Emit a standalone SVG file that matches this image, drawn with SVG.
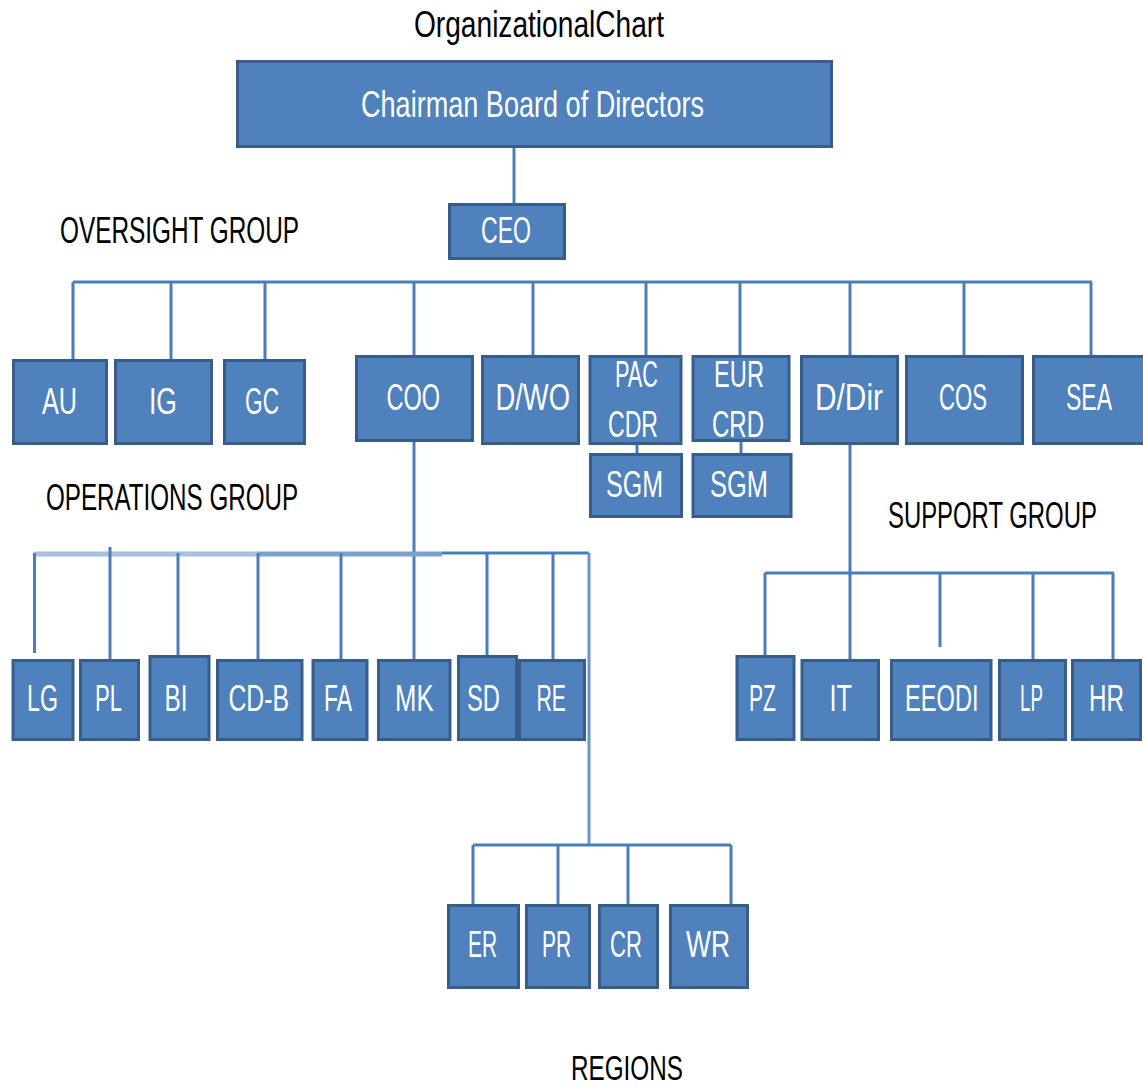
<svg xmlns="http://www.w3.org/2000/svg" width="1143" height="1087" viewBox="0 0 1143 1087">
<style>
.b{fill:#4f81bd;stroke:#385d8a;stroke-width:3}
.t{font-family:"Liberation Sans",Arial,sans-serif;font-size:37px;fill:#ffffff}
.k{font-family:"Liberation Sans",Arial,sans-serif;font-size:37px;fill:#000000}
.c{stroke:#4a7ebb;stroke-width:3;fill:none}
</style>
<rect width="1143" height="1087" fill="#ffffff"/>
<g id="labels">
<text class="k" x="414" y="37" textLength="250" lengthAdjust="spacingAndGlyphs">OrganizationalChart</text>
<text class="k" x="60" y="243" textLength="239" lengthAdjust="spacingAndGlyphs">OVERSIGHT GROUP</text>
<text class="k" x="46" y="510" textLength="252" lengthAdjust="spacingAndGlyphs">OPERATIONS GROUP</text>
<text class="k" transform="translate(888 528) scale(0.646 1)" x="0" y="0">SUPPORT GROUP</text>
<text class="k" x="571" y="1080" style="font-size:35px" textLength="112" lengthAdjust="spacingAndGlyphs">REGIONS</text>
</g>
<g id="connectors">
<path class="c" stroke-width="2" d="M514 148V203"/>
<path class="c" d="M73 282H1092M73 282V359M171 282V359M265 282V359M414 282V355M533 282V355M646 282V355M740 282V355M850 282V355M964 282V355M1091 282V355"/>
<path class="c" stroke-width="2" d="M637 445V453M741 442V453"/>
<path class="c" d="M414 442V659M850 445V659"/>
<path d="M34 554H258" stroke="#a7c0de" stroke-width="5"/>
<path d="M258 554H442" stroke="#7aa1cd" stroke-width="5"/>
<path class="c" d="M442 553H589"/>
<path class="c" d="M34.5 553V653M110 547V659M178 553V655M258 553V659M341 553V659M487 553V655M553 553V659"/>
<path d="M589 553V845" stroke="#6b95c8" stroke-width="3"/>
<path class="c" d="M765 573H1114M765 573V655M940 573V647M1033 573V659M1113 573V659"/>
<path class="c" d="M473 845H731M473 845V904M558 845V904M628 845V904M731 845V904"/>
</g>
<g id="n-chairman"><rect class="b" x="237.5" y="61.5" width="594" height="85"/><text class="t" x="361" y="117" textLength="343" lengthAdjust="spacingAndGlyphs">Chairman Board of Directors</text></g>
<g id="n-ceo"><rect class="b" x="449.5" y="204.5" width="115" height="54"/><text class="t" x="481" y="243" textLength="50" lengthAdjust="spacingAndGlyphs">CEO</text></g>
<g id="n-au"><rect class="b" x="13.5" y="360.5" width="93" height="83"/><text class="t" x="42" y="414" textLength="35" lengthAdjust="spacingAndGlyphs">AU</text></g>
<g id="n-ig"><rect class="b" x="115.5" y="360.5" width="96" height="83"/><text class="t" x="149" y="414" textLength="28" lengthAdjust="spacingAndGlyphs">IG</text></g>
<g id="n-gc"><rect class="b" x="224.5" y="360.5" width="80" height="83"/><text class="t" x="245" y="414" textLength="34" lengthAdjust="spacingAndGlyphs">GC</text></g>
<g id="n-coo"><rect class="b" x="356.5" y="356.5" width="116" height="84"/><text class="t" x="386.5" y="410" textLength="53.5" lengthAdjust="spacingAndGlyphs">COO</text></g>
<g id="n-dwo"><rect class="b" x="482.5" y="356.5" width="96" height="87"/><text class="t" x="495.5" y="410" textLength="74.5" lengthAdjust="spacingAndGlyphs">D/WO</text></g>
<g id="n-paccdr"><rect class="b" x="590" y="356.5" width="91" height="87"/><text class="t" x="615" y="387" textLength="43" lengthAdjust="spacingAndGlyphs">PAC</text><text class="t" x="608" y="437" textLength="50" lengthAdjust="spacingAndGlyphs">CDR</text></g>
<g id="n-eurcrd"><rect class="b" x="693" y="356.5" width="96" height="84"/><text class="t" x="714" y="387" textLength="50" lengthAdjust="spacingAndGlyphs">EUR</text><text class="t" x="712" y="437" textLength="52" lengthAdjust="spacingAndGlyphs">CRD</text></g>
<g id="n-sgm1"><rect class="b" x="590.5" y="454.5" width="91" height="62"/><text class="t" x="606" y="497" textLength="57" lengthAdjust="spacingAndGlyphs">SGM</text></g>
<g id="n-sgm2"><rect class="b" x="693" y="454.5" width="98" height="62"/><text class="t" x="710" y="497" textLength="58" lengthAdjust="spacingAndGlyphs">SGM</text></g>
<g id="n-ddir"><rect class="b" x="801.5" y="356.5" width="96" height="87"/><text class="t" x="815" y="410" textLength="68" lengthAdjust="spacingAndGlyphs">D/Dir</text></g>
<g id="n-cos"><rect class="b" x="906.5" y="356.5" width="116" height="87"/><text class="t" x="939" y="410" textLength="48" lengthAdjust="spacingAndGlyphs">COS</text></g>
<g id="n-sea"><rect class="b" x="1033.5" y="356.5" width="111" height="87"/><text class="t" x="1066" y="410" textLength="46" lengthAdjust="spacingAndGlyphs">SEA</text></g>
<g id="n-lg"><rect class="b" x="13" y="660.5" width="60" height="79"/><text class="t" x="27" y="711" textLength="31" lengthAdjust="spacingAndGlyphs">LG</text></g>
<g id="n-pl"><rect class="b" x="80.5" y="660.5" width="58" height="79"/><text class="t" x="95" y="711" textLength="27" lengthAdjust="spacingAndGlyphs">PL</text></g>
<g id="n-bi"><rect class="b" x="150" y="656.5" width="59" height="83"/><text class="t" x="164.5" y="711" textLength="23" lengthAdjust="spacingAndGlyphs">BI</text></g>
<g id="n-cdb"><rect class="b" x="217.5" y="660.5" width="84.5" height="79"/><text class="t" x="228.5" y="711" textLength="60.5" lengthAdjust="spacingAndGlyphs">CD-B</text></g>
<g id="n-fa"><rect class="b" x="313" y="660.5" width="54" height="79"/><text class="t" x="324" y="711" textLength="28" lengthAdjust="spacingAndGlyphs">FA</text></g>
<g id="n-mk"><rect class="b" x="378.5" y="660.5" width="71.5" height="79"/><text class="t" x="395" y="711" textLength="38.5" lengthAdjust="spacingAndGlyphs">MK</text></g>
<g id="n-sd"><rect class="b" x="458.5" y="656.5" width="58" height="83"/><text class="t" x="467" y="711" textLength="33" lengthAdjust="spacingAndGlyphs">SD</text></g>
<g id="n-re"><rect class="b" x="519.5" y="660.5" width="65" height="79"/><text class="t" x="536.5" y="711" textLength="29.5" lengthAdjust="spacingAndGlyphs">RE</text></g>
<g id="n-pz"><rect class="b" x="737" y="656.5" width="57" height="83"/><text class="t" x="749" y="711" textLength="27" lengthAdjust="spacingAndGlyphs">PZ</text></g>
<g id="n-it"><rect class="b" x="802" y="660.5" width="76.5" height="79"/><text class="t" x="829.5" y="711" textLength="22.5" lengthAdjust="spacingAndGlyphs">IT</text></g>
<g id="n-eeodi"><rect class="b" x="891.5" y="660.5" width="99.5" height="79"/><text class="t" x="905" y="711" textLength="73.5" lengthAdjust="spacingAndGlyphs">EEODI</text></g>
<g id="n-lp"><rect class="b" x="999.5" y="660.5" width="66" height="79"/><text class="t" x="1020" y="711" textLength="23" lengthAdjust="spacingAndGlyphs">LP</text></g>
<g id="n-hr"><rect class="b" x="1072.5" y="660.5" width="68" height="79"/><text class="t" x="1089" y="711" textLength="35" lengthAdjust="spacingAndGlyphs">HR</text></g>
<g id="n-er"><rect class="b" x="448.5" y="905.5" width="70" height="82"/><text class="t" x="468" y="957" textLength="29" lengthAdjust="spacingAndGlyphs">ER</text></g>
<g id="n-pr"><rect class="b" x="526.5" y="905.5" width="63" height="82"/><text class="t" x="542" y="957" textLength="29" lengthAdjust="spacingAndGlyphs">PR</text></g>
<g id="n-cr"><rect class="b" x="599.5" y="905.5" width="58" height="82"/><text class="t" x="610" y="957" textLength="32" lengthAdjust="spacingAndGlyphs">CR</text></g>
<g id="n-wr"><rect class="b" x="670.5" y="905.5" width="77" height="82"/><text class="t" x="686" y="957" textLength="44" lengthAdjust="spacingAndGlyphs">WR</text></g>
</svg>
